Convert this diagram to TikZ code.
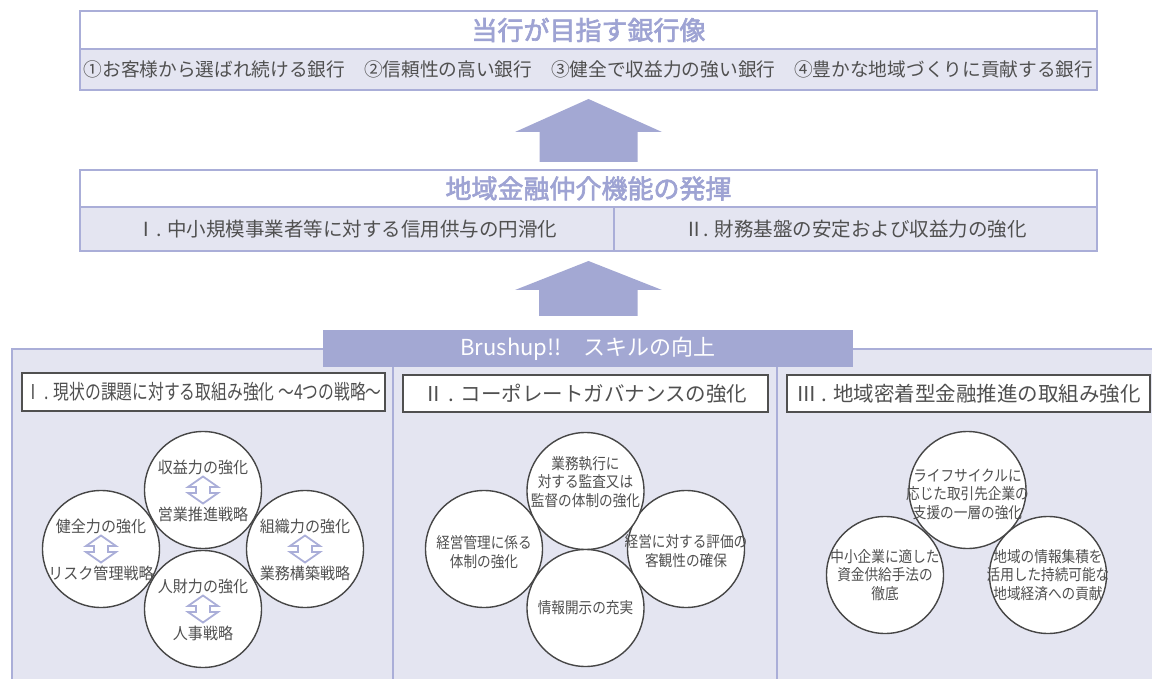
\documentclass[tikz,border=0pt]{standalone}
\usepackage{fontspec}
\setmainfont{Noto Sans CJK JP}
\newfontfamily\titlefont[FakeBold=2.5]{Noto Sans CJK JP}
\newfontfamily\condfont[FakeStretch=0.77]{Noto Sans CJK JP}
\newfontfamily\narrowfont[FakeStretch=0.88]{Noto Sans CJK JP}
\newfontfamily\pairfont[FakeStretch=0.94]{Noto Sans CJK JP}
\usetikzlibrary{positioning,calc}
\definecolor{lavfill}{RGB}{163,168,211}
\definecolor{lavline}{RGB}{170,174,216}
\definecolor{lavpale}{RGB}{228,229,241}
\definecolor{lavtext}{RGB}{158,163,211}
\definecolor{inkgray}{RGB}{80,80,80}
\definecolor{ringgray}{RGB}{70,70,70}

\begin{document}
\begin{tikzpicture}[
    x=1pt, y=-1pt,
    titlebox/.style={rectangle, draw=lavline, line width=1.6pt, fill=white, minimum width=1017pt, minimum height=38pt, inner sep=0pt, outer sep=0pt, text=lavtext, font=\titlefont\fontsize{26}{30}\selectfont},
    rowbox/.style={rectangle, draw=lavline, line width=1.6pt, fill=lavpale, minimum height=44pt, inner sep=0pt, outer sep=0pt, text=inkgray, font=\fontsize{19.5}{23}\selectfont},
    bigarrow/.style={fill=lavfill},
    header/.style={rectangle, draw=inkgray, line width=1.4pt, fill=white, minimum height=37pt, inner sep=0pt, text=inkgray, font=\fontsize{20.5}{24}\selectfont},
    ring/.style={circle, draw=ringgray, line width=1.4pt, fill=white, minimum size=117pt, inner sep=0pt},
    ringtext/.style={text=inkgray, align=center, font=\narrowfont\fontsize{15.5}{18.5}\selectfont},
    pairtext/.style={text=inkgray, font=\pairfont\fontsize{16}{18}\selectfont},
    duoarrow/.style={draw=lavline, line width=1.8pt, fill=white, line join=miter}
]
\useasboundingbox (0,0) rectangle (1152,679);
\clip (0,0) rectangle (1152,679);

% bank vision (top)
\node[titlebox] (vision) at (588.5, 30) {当行が目指す銀行像};
\node[rowbox, minimum width=1017pt, minimum height=41pt, below=0pt of vision, font=\fontsize{18.7}{22}\selectfont] (visionrow) {①お客様から選ばれ続ける銀行　②信頼性の高い銀行　③健全で収益力の強い銀行　④豊かな地域づくりに貢献する銀行};

% financial intermediation (middle)
\node[titlebox, minimum height=37pt] (intermed) at (588.5, 188.5) {地域金融仲介機能の発揮};
\node[rowbox, minimum width=534pt, anchor=north west] (credit) at (intermed.south west) {Ⅰ. 中小規模事業者等に対する信用供与の円滑化};
\node[rowbox, minimum width=483pt, right=0pt of credit] (finance) {Ⅱ. 財務基盤の安定および収益力の強化};

% big arrows
\fill[bigarrow] ($(visionrow.south)+(0,9)$) coordinate (tip1) -- ++(73.5,33) -- ++(-24.5,0)
    |- ($(intermed.north)+(-49,-8)$) |- ($(tip1)+(-73.5,33)$) -- cycle;

% skill panel (bottom)
\draw[draw=lavline, line width=2pt, fill=lavpale] (12,349) rectangle (1175,700);
\draw[lavline, line width=1.6pt] (393,349) -- (393,700);
\draw[lavline, line width=1.6pt] (777,349) -- (777,700);
\node[rectangle, fill=lavfill, minimum width=530pt, minimum height=37pt, inner sep=0pt, text=white, font=\fontsize{22}{26}\selectfont] (brush) at (588, 348.5) {Brushup!!　スキルの向上};

\fill[bigarrow] ($(credit.south -| intermed.south)+(0,10)$) coordinate (tip2) -- ++(73.5,29) -- ++(-24.5,0)
    |- ($(brush.north)+(-49,-14)$) |- ($(tip2)+(-73.5,29)$) -- cycle;

% column headers
\node[header, minimum width=363pt, minimum height=38pt, font=\condfont\fontsize{20.5}{24}\selectfont] (strat) at (203.5, 392) {Ⅰ . 現状の課題に対する取組み強化 ～4つの戦略～};
\node[header, minimum width=365pt] (govern) at (585.5, 393.5) {Ⅱ . コーポレートガバナンスの強化};
\node[header, minimum width=363pt] (region) at (968.5, 393.5) {Ⅲ . 地域密着型金融推進の取組み強化};

% four strategies
\node[ring] (earn) at (203,490) {};
\node[ring] (sound) at (101,549) {};
\node[ring] (organ) at (305,549) {};
\node[ring] (people) at (203,609) {};
\foreach \c/\up/\dn in {earn/収益力の強化/営業推進戦略, sound/健全力の強化/リスク管理戦略, organ/組織力の強化/業務構築戦略, people/人財力の強化/人事戦略} {
    \node[pairtext] (\c_up) at ($(\c)+(0,-23)$) {\up};
    \node[pairtext] (\c_dn) at ($(\c)+(0,24)$) {\dn};
    \draw[duoarrow] ($(\c)+(0,-13.5)$) -- ++(15,10.5) -- ++(-8,0) -- ++(0,6) -- ++(8,0) -- ++(-15,10.5)
        -- ++(-15,-10.5) -- ++(8,0) -- ++(0,-6) -- ++(-8,0) -- cycle;
}

% governance
\node[ring] (mgmt) at (484,549) {};
\node[ring] (evalu) at (686,549) {};
\node[ring] (audit) at (585.5,491) {};
\node[ring] (disclose) at (585.5,608) {};
\node[ringtext] (audit_t) at ($(audit)+(0,-9)$) {業務執行に\\対する監査又は\\監督の体制の強化};
\node[ringtext] (mgmt_t) at ($(mgmt)+(0,3)$) {経営管理に係る\\体制の強化};
\node[ringtext] (evalu_t) at ($(evalu)+(0,2)$) {経営に対する評価の\\客観性の確保};
\node[ringtext] (disclose_t) at (disclose) {情報開示の充実};

% regional finance
\node[ring] (lifecyc) at (967.5,490) {};
\node[ring] (smefund) at (885,575) {};
\node[ring] (regecon) at (1048,575) {};
\node[ringtext] (lifecyc_t) at ($(lifecyc)+(0,4)$) {ライフサイクルに\\応じた取引先企業の\\支援の一層の強化};
\node[ringtext] (smefund_t) at (smefund) {中小企業に適した\\資金供給手法の\\徹底};
\node[ringtext] (regecon_t) at (regecon) {地域の情報集積を\\活用した持続可能な\\地域経済への貢献};

\end{tikzpicture}
\end{document}
